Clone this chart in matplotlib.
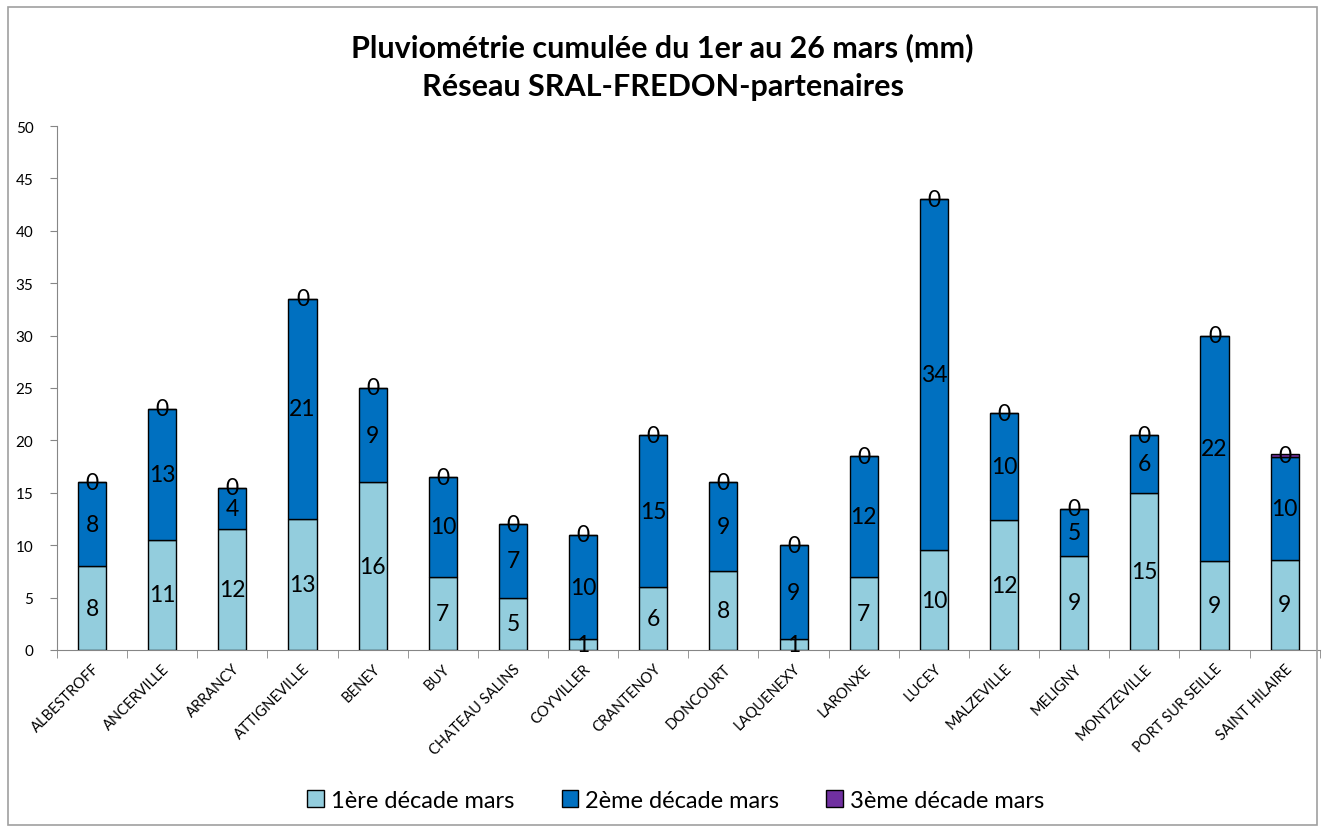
import matplotlib
matplotlib.use('Agg')
from matplotlib import pyplot as plt
from matplotlib.patches import Rectangle
import numpy as np

stations = ['ALBESTROFF', 'ANCERVILLE', 'ARRANCY', 'ATTIGNEVILLE', 'BENEY', 'BUY',
            'CHATEAU SALINS', 'COYVILLER', 'CRANTENOY', 'DONCOURT', 'LAQUENEXY',
            'LARONXE', 'LUCEY', 'MALZEVILLE', 'MELIGNY', 'MONTZEVILLE',
            'PORT SUR SEILLE', 'SAINT HILAIRE']
decade1 = [8, 10.5, 11.5, 12.5, 16, 7, 5, 1, 6, 7.5, 1, 7, 9.5, 12.4, 9, 15, 8.5, 8.6]
decade2 = [8, 12.5, 4, 21, 9, 9.5, 7, 10, 14.5, 8.5, 9, 11.5, 33.5, 10.2, 4.5, 5.5, 21.5, 9.8]
decade3 = [0, 0, 0, 0, 0, 0, 0, 0, 0, 0, 0, 0, 0, 0, 0, 0, 0, 0.3]
series_names = ['1ère décade mars', '2ème décade mars', '3ème décade mars']
colors = ['#93CDDD', '#0070C0', '#7030A0']

plt.rcParams['font.family'] = ['Lato', 'DejaVu Sans']

fig = plt.figure(figsize=(13.25, 8.28), dpi=100)
ax = fig.add_axes([0.043, 0.2138, 0.953, 0.6328])

x = np.arange(len(stations))
bottom = np.zeros(len(stations))
for vals, name, col in zip([decade1, decade2, decade3], series_names, colors):
    vals = np.array(vals, dtype=float)
    ax.bar(x, vals, 0.4, bottom=bottom, color=col, edgecolor='black',
           linewidth=1.0, label=name, zorder=3)
    for xi, b, v in zip(x, bottom, vals):
        txt = '%d' % int(np.floor(v + 0.5))
        ax.text(xi, b + v / 2, txt, ha='center', va='center', fontsize=16.5, zorder=4)
    bottom = bottom + vals

ax.set_ylim(0, 50)
ax.set_xlim(-0.5, len(stations) - 0.5)
ax.set_yticks(np.arange(0, 51, 5))
ax.tick_params(axis='y', labelsize=11, length=5, color='#868686', direction='out', pad=12)
ax.set_xticks(x)
ax.set_xticklabels(stations, rotation=45, ha='right', rotation_mode='anchor', fontsize=10.5)
ax.tick_params(axis='x', length=0, pad=8)
ax.set_xticks(np.arange(-0.5, len(stations), 1), minor=True)
ax.tick_params(axis='x', which='minor', length=6, color='#868686')
for s in ['top', 'right']:
    ax.spines[s].set_visible(False)
for s in ['left', 'bottom']:
    ax.spines[s].set_color('#868686')

fig.text(0.5, 0.943, 'Pluviométrie cumulée du 1er au 26 mars (mm)', ha='center', va='center',
         fontsize=22, fontweight='bold')
fig.text(0.5, 0.895, 'Réseau SRAL-FREDON-partenaires', ha='center', va='center',
         fontsize=22, fontweight='bold')

leg = fig.legend(loc='center', bbox_to_anchor=(0.51, 0.032), ncol=3, frameon=False,
                 fontsize=17, handlelength=0.7, handleheight=0.7, columnspacing=2.0,
                 handletextpad=0.3)

fig.patches.append(Rectangle((0.006, 0.003), 0.988, 0.987, transform=fig.transFigure,
                             fill=False, edgecolor='#a0a0a0', linewidth=1.2))

fig.savefig('out.png', dpi=100)
